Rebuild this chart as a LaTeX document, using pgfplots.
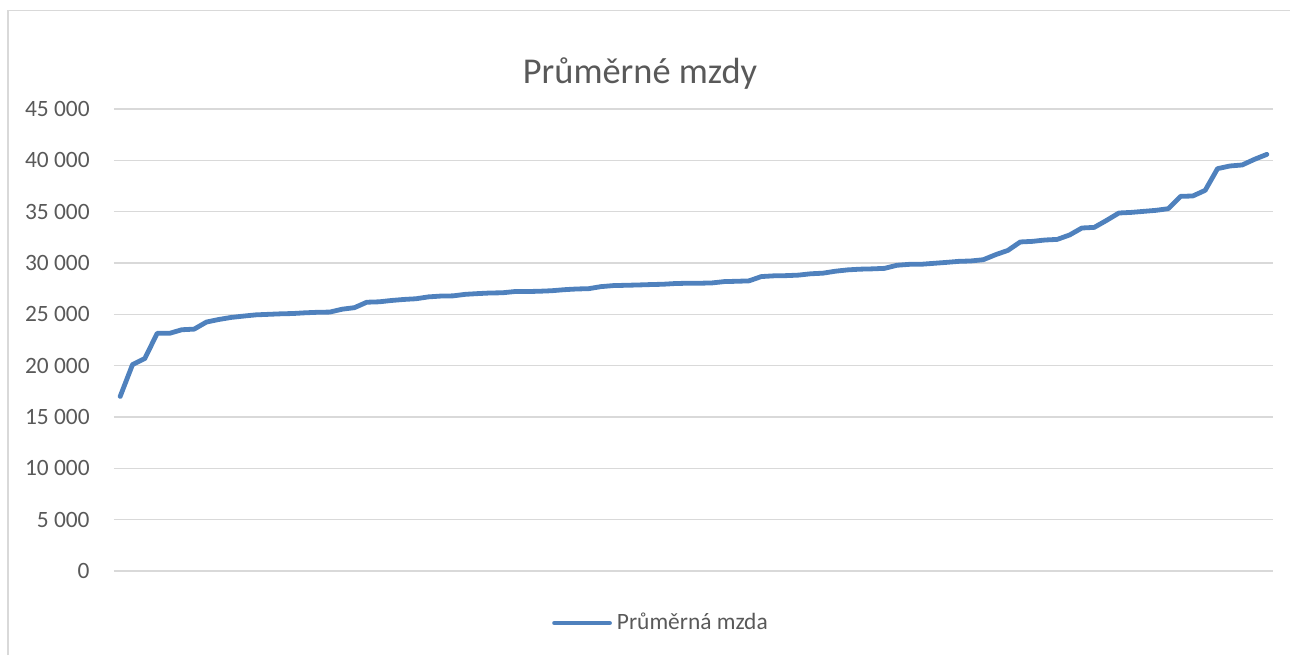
\documentclass[border=0pt]{standalone}
\usepackage{fontspec}
\setmainfont{Carlito}
\usepackage{pgfplots}
\pgfplotsset{compat=1.18}
\definecolor{txt}{HTML}{595959}
\definecolor{gridc}{HTML}{D9D9D9}
\definecolor{ser}{HTML}{4F81BD}
\begin{document}
\begin{tikzpicture}
\path[use as bounding box] (0,0) rectangle (645pt,327.5pt);
\draw[gridc, line width=0.75pt] (4pt,0) -- (4pt,322.25pt) -- (645pt,322.25pt);
\node[anchor=base, text=txt, font=\fontsize{18.2pt}{20pt}\selectfont] at (320pt,286pt) {Průměrné mzdy};
\begin{axis}[
  at={(57pt,42pt)}, anchor=south west,
  scale only axis, width=579.5pt, height=231pt,
  xmin=0.5, xmax=94.5, ymin=0, ymax=45000,
  xtick=\empty,
  scaled y ticks=false,
  ytick={0,5000,10000,15000,20000,25000,30000,35000,40000,45000},
  yticklabels={0,5 000,10 000,15 000,20 000,25 000,30 000,35 000,40 000,45 000},
  yticklabel style={anchor=east, inner sep=0pt, xshift=-12pt, text=txt, font=\fontsize{11.7pt}{14pt}\selectfont},
  major tick length=0pt,
  axis line style={draw=none},
  ymajorgrids, grid style={gridc, line width=0.75pt},
  legend style={at={(axis description cs:0.3777,-0.1126)}, anchor=west, draw=none, fill=none, inner sep=0pt, column sep=2.5pt, nodes={inner sep=0pt, text=txt, font=\fontsize{11.7pt}{14pt}\selectfont}},
  legend cell align=left,
  legend image code/.code={\draw[#1, line cap=round] (0pt,0pt) -- (27.5pt,0pt);},
]
\addplot[ser, line width=2.4pt, line join=round, line cap=round, mark=none] coordinates {
(1,17000) (2,20100) (3,20700) (4,23150) (5,23150) (6,23500) (7,23560) (8,24250) (9,24500) (10,24700)
(11,24830) (12,24950) (13,25000) (14,25050) (15,25080) (16,25150) (17,25200) (18,25220) (19,25500) (20,25650)
(21,26180) (22,26220) (23,26350) (24,26450) (25,26520) (26,26700) (27,26780) (28,26800) (29,26950) (30,27020)
(31,27080) (32,27100) (33,27220) (34,27220) (35,27250) (36,27300) (37,27400) (38,27470) (39,27500) (40,27700)
(41,27800) (42,27830) (43,27860) (44,27900) (45,27930) (46,28000) (47,28030) (48,28030) (49,28060) (50,28190)
(51,28220) (52,28260) (53,28680) (54,28750) (55,28770) (56,28820) (57,28950) (58,29010) (59,29200) (60,29330)
(61,29400) (62,29430) (63,29480) (64,29780) (65,29870) (66,29880) (67,29970) (68,30060) (69,30160) (70,30200)
(71,30320) (72,30810) (73,31230) (74,32050) (75,32110) (76,32240) (77,32300) (78,32730) (79,33410) (80,33470)
(81,34150) (82,34870) (83,34930) (84,35030) (85,35130) (86,35290) (87,36490) (88,36530) (89,37080) (90,39190)
(91,39450) (92,39550) (93,40100) (94,40580)
};
\addlegendentry{Průměrná mzda}
\end{axis}
\end{tikzpicture}
\end{document}
